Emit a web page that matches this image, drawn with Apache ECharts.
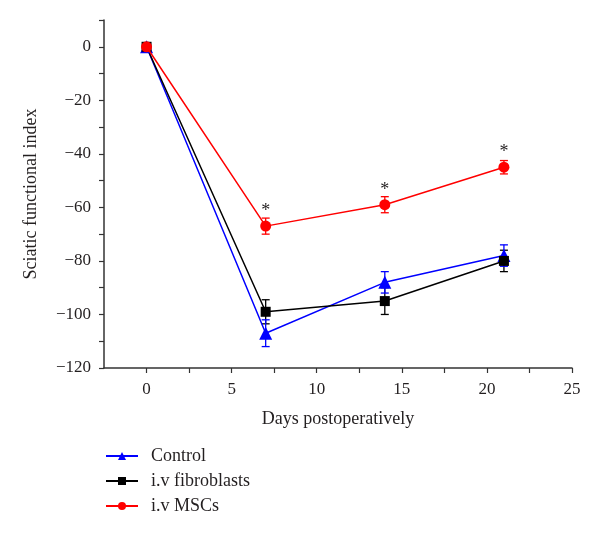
<!DOCTYPE html>
<html>
<head>
<meta charset="utf-8">
<script src="https://cdn.jsdelivr.net/npm/echarts@6/dist/echarts.min.js"></script>
<style>html,body{margin:0;padding:0;background:#fff;}#c{width:600px;height:536px;}</style>
</head>
<body>
<div id="c"></div>
<script>
const days = [0, 7, 14, 21];
const controlMean = [0, -107, -88, -78];
const controlErr = [0, 5, 4, 4];
const fibroMean = [0, -99, -95, -80];
const fibroErr = [0, 4.5, 5, 4];
const mscMean = [0, -67, -59, -45];
const mscErr = [0, 3, 3, 2.5];
const mscSig = ['', '*', '*', '*'];
const xLabelValues = [0, 5, 10, 15, 20, 25];
const xTickValues = [0, 2.5, 5, 7.5, 10, 12.5, 15, 17.5, 20, 22.5, 25];
const yLabelValues = [-120, -100, -80, -60, -40, -20, 0];
const yTickValues = [-120, -110, -100, -90, -80, -70, -60, -50, -40, -30, -20, -10, 0, 10];

const FONT = '"Liberation Serif", "DejaVu Serif", serif';
const TXT = '#231f20';

function pairs(m) { return days.map((d, i) => [d, m[i]]); }
function errData(m, e) { return days.map((d, i) => [d, m[i] - e[i], m[i] + e[i]]); }
function errSeries(m, e, color) {
  return {
    type: 'custom',
    silent: true,
    z: 3,
    data: errData(m, e),
    renderItem: function (params, api) {
      const x = api.value(0);
      const lo = api.coord([x, api.value(1)]);
      const hi = api.coord([x, api.value(2)]);
      const w = 4;
      const st = { stroke: color, lineWidth: 1.3 };
      return {
        type: 'group',
        children: [
          { type: 'line', shape: { x1: hi[0], y1: hi[1], x2: lo[0], y2: lo[1] }, style: st },
          { type: 'line', shape: { x1: hi[0] - w, y1: hi[1], x2: hi[0] + w, y2: hi[1] }, style: st },
          { type: 'line', shape: { x1: lo[0] - w, y1: lo[1], x2: lo[0] + w, y2: lo[1] }, style: st }
        ]
      };
    }
  };
}
const minus = v => String(v).replace('-', '\u2212');

const chart = echarts.init(document.getElementById('c'));
chart.setOption({
  animation: false,
  backgroundColor: '#fff',
  grid: { left: 104, right: 28, top: 20, bottom: 168 },
  xAxis: {
    type: 'value', min: -2.5, max: 25,
    name: 'Days postoperatively', nameLocation: 'middle', nameGap: 42,
    nameTextStyle: { fontFamily: FONT, fontSize: 18, color: TXT },
    axisLine: { onZero: false, lineStyle: { color: '#333', width: 1.5 } },
    axisTick: { show: true, length: 5, customValues: xTickValues, lineStyle: { color: '#333', width: 1.2 } },
    axisLabel: { customValues: xLabelValues, fontFamily: FONT, fontSize: 17, color: TXT, margin: 13 },
    splitLine: { show: false }
  },
  yAxis: {
    type: 'value', min: -120, max: 10,
    name: 'Sciatic functional index', nameLocation: 'middle', nameGap: 64,
    nameTextStyle: { fontFamily: FONT, fontSize: 18, color: TXT },
    axisLine: { show: true, onZero: false, lineStyle: { color: '#333', width: 1.5 } },
    axisTick: { show: true, length: 5, customValues: yTickValues, lineStyle: { color: '#333', width: 1.2 } },
    axisLabel: { customValues: yLabelValues, fontFamily: FONT, fontSize: 17, color: TXT, margin: 13, formatter: minus },
    splitLine: { show: false }
  },
  legend: {
    orient: 'vertical', left: 100, top: 442, itemWidth: 32, itemHeight: 10, itemGap: 7,
    textStyle: { fontFamily: FONT, fontSize: 18, color: TXT, padding: [0, 0, 0, 8] },
    data: ['Control', 'i.v fibroblasts', 'i.v MSCs']
  },
  series: [
    errSeries(fibroMean, fibroErr, '#000'),
    errSeries(controlMean, controlErr, '#0000ff'),
    errSeries(mscMean, mscErr, '#ff0000'),
    {
      name: 'Control', type: 'line', data: pairs(controlMean), z: 4,
      symbol: 'triangle', symbolSize: 13,
      lineStyle: { color: '#0000ff', width: 1.5 }, itemStyle: { color: '#0000ff' }
    },
    {
      name: 'i.v fibroblasts', type: 'line', data: pairs(fibroMean), z: 4,
      symbol: 'rect', symbolSize: 10,
      lineStyle: { color: '#000', width: 1.5 }, itemStyle: { color: '#000' }
    },
    {
      name: 'i.v MSCs', type: 'line', data: pairs(mscMean), z: 5,
      symbol: 'circle', symbolSize: 11,
      lineStyle: { color: '#ff0000', width: 1.5 }, itemStyle: { color: '#ff0000' },
      label: {
        show: true, position: 'top', distance: 0,
        formatter: p => mscSig[p.dataIndex],
        fontFamily: FONT, fontSize: 18, color: TXT
      }
    }
  ]
});
</script>
</body>
</html>
